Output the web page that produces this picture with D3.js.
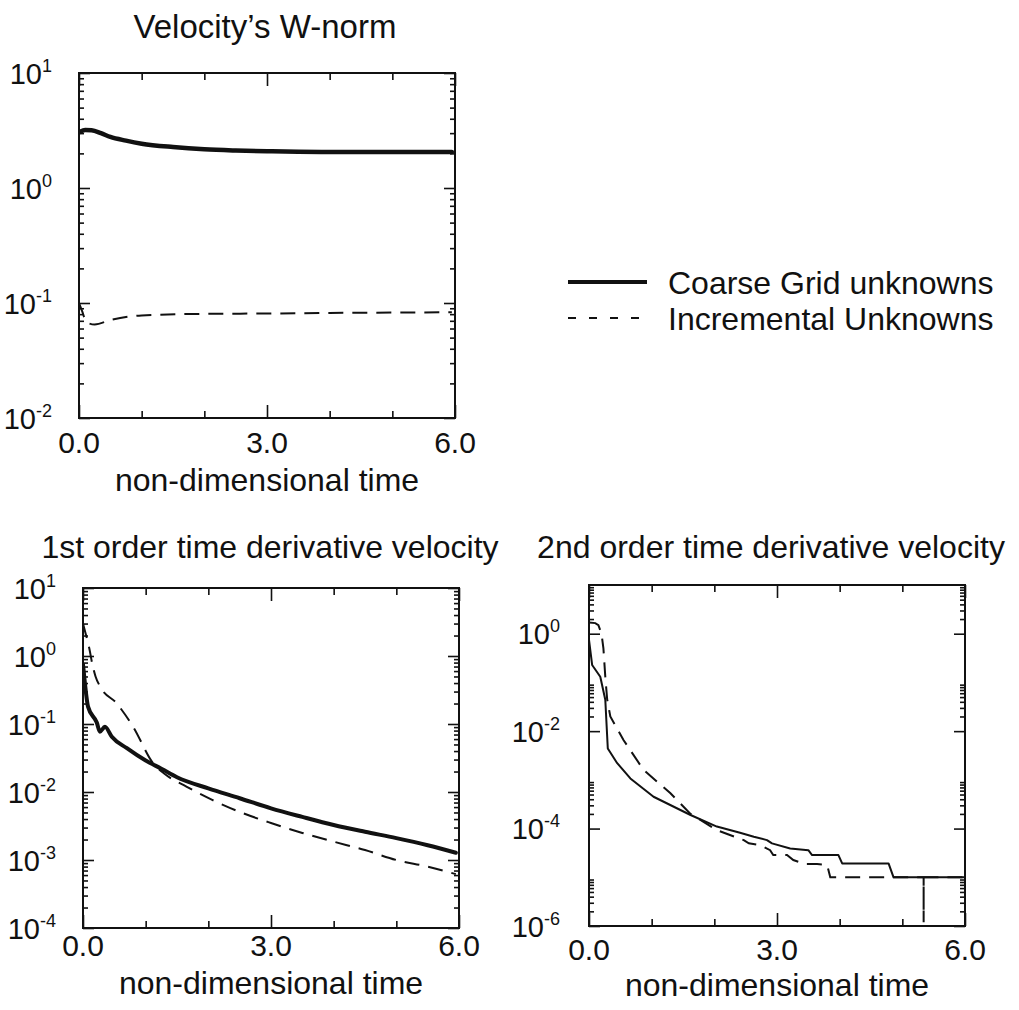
<!DOCTYPE html>
<html>
<head>
<meta charset="utf-8">
<script src="https://cdn.jsdelivr.net/npm/d3@7"></script>
<style>
  html, body { margin: 0; padding: 0; background: #fff; }
  svg { display: block; }
  text { font-family: "Liberation Sans", Arial, Helvetica, sans-serif; fill: #111; }
</style>
</head>
<body>
<svg id="chart" width="1019" height="1010"></svg>
<script>
// ---- data: [time, value] pairs ----
const xTickValues = [0, 1, 2, 3, 4, 5, 6];
const xTickLabels = ["0.0", "3.0", "6.0"];
const xLabelValues = [0, 3, 6];

// velocity W-norm
const wNormCoarse = [[0,3.05],[0.1,3.2],[0.2,3.18],[0.35,3.0],[0.5,2.78],[0.75,2.58],[1.0,2.43],[1.5,2.27],[2.0,2.17],[2.5,2.12],[3.0,2.09],[3.5,2.07],[4.0,2.06],[4.5,2.06],[5.0,2.06],[5.5,2.06],[5.95,2.06]];
const wNormIncr = [[0,0.1],[0.05,0.085],[0.12,0.068],[0.25,0.065],[0.5,0.071],[1.0,0.078],[2.0,0.0805],[3.0,0.081],[4.0,0.082],[5.0,0.0825],[5.95,0.083]];

// 1st order time derivative
const d1Coarse = [[0,0.75],[0.03,0.4],[0.08,0.18],[0.22,0.105],[0.27,0.077],[0.35,0.091],[0.46,0.065],[0.7,0.044],[1.0,0.029],[1.25,0.022],[1.5,0.0165],[2.0,0.0113],[2.5,0.0081],[3.0,0.00575],[3.5,0.0043],[4.0,0.00327],[4.5,0.0026],[5.0,0.0021],[5.5,0.00165],[5.95,0.00128]];
const d1Incr = [[0,3.0],[0.05,2.0],[0.1,1.3],[0.15,0.75],[0.2,0.5],[0.27,0.36],[0.54,0.2],[0.8,0.091],[1.12,0.0264],[1.3,0.0185],[1.65,0.012],[2.07,0.0076],[2.5,0.0051],[3.0,0.0035],[3.5,0.0025],[4.0,0.00186],[4.5,0.0014],[5.0,0.001],[5.5,0.0008],[5.95,0.00062]];

// 2nd order time derivative
const d2Coarse = [[0,0.75],[0.05,0.228],[0.18,0.131],[0.26,0.044],[0.3,0.0044],[0.45,0.0022],[0.66,0.00107],[1.03,0.00045],[1.62,0.00019],[2.04,0.00011],[2.41,8.2e-5],[2.63,6.8e-5],[2.84,5.8e-5],[2.92,4.97e-5],[3.21,3.9e-5],[3.5,3.6e-5],[3.56,2.86e-5],[3.98,2.86e-5],[4.04,1.93e-5],[4.78,1.93e-5],[4.86,1e-5],[6.0,1e-5]];
const d2Incr = [[0,1.7],[0.1,1.65],[0.15,1.5],[0.2,1.0],[0.23,0.5],[0.26,0.13],[0.29,0.045],[0.34,0.02],[0.55,0.0066],[0.87,0.0016],[1.3,0.00053],[1.62,0.0002],[2.04,9.3e-5],[2.47,5.8e-5],[2.55,4.97e-5],[2.73,4.6e-5],[2.89,3.6e-5],[2.94,2.86e-5],[3.16,2.86e-5],[3.26,2.26e-5],[3.45,1.87e-5],[3.64,1.87e-5],[3.8,1.8e-5],[3.85,1e-5],[5.34,1e-5],[5.34,1.2e-6],[5.34,1e-5],[6.0,1e-5]];

const seriesNames = ["Coarse Grid unknowns", "Incremental Unknowns"];
const panelTitles = ["Velocity\u2019s W-norm", "1st order time derivative velocity", "2nd order time derivative velocity"];
const xAxisTitle = "non-dimensional time";

// y tick exponents (labelled) and decades that get minor ticks
const wYExps = [1, 0, -1, -2];
const d1YExps = [1, 0, -1, -2, -3, -4];
const d2YExps = [0, -2, -4, -6];
const wMinorDecades = [-2, -1, 0];
const d1MinorDecades = [-4, -3, -2, -1, 0];
const d2MinorDecades = [-6, -4, -2, 0];

// ---- layout ----
const svg = d3.select("#chart");
const ink = "#111";

const panels = [
  { box: {l: 79, r: 455, t: 73, b: 418}, yDomain: [1e-2, 1e1], exps: wYExps, minor: wMinorDecades,
    coarse: wNormCoarse, incr: wNormIncr, title: panelTitles[0], titleX: 265, titleY: 38, titleSize: 33,
    labelEnd: 52, tickY: 453, axisTitleY: 491, coarseWidth: 4.5, smooth: true },
  { box: {l: 83, r: 459, t: 588, b: 928}, yDomain: [1e-4, 1e1], exps: d1YExps, minor: d1MinorDecades,
    coarse: d1Coarse, incr: d1Incr, title: panelTitles[1], titleX: 270, titleY: 558, titleSize: 32,
    labelEnd: 56, tickY: 956, axisTitleY: 994, coarseWidth: 4, smooth: true },
  { box: {l: 589, r: 965, t: 585, b: 926}, yDomain: [1e-6, 1e1], exps: d2YExps, minor: d2MinorDecades,
    coarse: d2Coarse, incr: d2Incr, title: panelTitles[2], titleX: 771, titleY: 558, titleSize: 32,
    labelEnd: 560, tickY: 960, axisTitleY: 996, coarseWidth: 2, smooth: false }
];

panels.forEach((p, i) => {
  const {l, r, t, b} = p.box;
  const x = d3.scaleLinear().domain([0, 6]).range([l, r]);
  const y = d3.scaleLog().domain(p.yDomain).range([b, t]);
  const g = svg.append("g");

  const clipId = "clip" + i;
  svg.append("clipPath").attr("id", clipId)
    .append("rect").attr("x", l).attr("y", t).attr("width", r - l).attr("height", b - t);

  const majors = p.exps.map(e => Math.pow(10, e));
  const minors = [];
  p.minor.forEach(e => { for (let k = 2; k <= 9; k++) minors.push(k * Math.pow(10, e)); });
  const xMajor = xTickValues.filter(v => v % 3 === 0);
  const xMinor = xTickValues.filter(v => v % 3 !== 0);

  const tickStyle = sel => {
    sel.select(".domain").remove();
    sel.selectAll("line").attr("stroke", ink).attr("stroke-width", 1.6);
  };

  // inward ticks on all four sides
  g.append("g").attr("transform", `translate(${l},0)`)
    .call(d3.axisLeft(y).tickValues(majors).tickSize(-11).tickFormat("")).call(tickStyle);
  g.append("g").attr("transform", `translate(${l},0)`)
    .call(d3.axisLeft(y).tickValues(minors).tickSize(-5).tickFormat("")).call(tickStyle);
  g.append("g").attr("transform", `translate(${r},0)`)
    .call(d3.axisRight(y).tickValues(majors).tickSize(-11).tickFormat("")).call(tickStyle);
  g.append("g").attr("transform", `translate(${r},0)`)
    .call(d3.axisRight(y).tickValues(minors).tickSize(-5).tickFormat("")).call(tickStyle);
  g.append("g").attr("transform", `translate(0,${b})`)
    .call(d3.axisBottom(x).tickValues(xMajor).tickSize(-13).tickFormat("")).call(tickStyle);
  g.append("g").attr("transform", `translate(0,${b})`)
    .call(d3.axisBottom(x).tickValues(xMinor).tickSize(-7).tickFormat("")).call(tickStyle);
  g.append("g").attr("transform", `translate(0,${t})`)
    .call(d3.axisTop(x).tickValues(xMajor).tickSize(-13).tickFormat("")).call(tickStyle);
  g.append("g").attr("transform", `translate(0,${t})`)
    .call(d3.axisTop(x).tickValues(xMinor).tickSize(-7).tickFormat("")).call(tickStyle);

  // frame
  g.append("rect").attr("x", l).attr("y", t).attr("width", r - l).attr("height", b - t)
    .attr("fill", "none").attr("stroke", ink).attr("stroke-width", 2);

  // y tick labels: 10 with superscript exponent
  p.exps.forEach(e => {
    const ty = y(Math.pow(10, e));
    const txt = g.append("text").attr("x", p.labelEnd).attr("y", ty + 10.5)
      .attr("text-anchor", "end").style("font-size", "29px");
    txt.append("tspan").text("10");
    txt.append("tspan").attr("dy", -12).style("font-size", "18px").text(e < 0 ? "-" + (-e) : String(e));
  });

  // x tick labels
  xLabelValues.forEach((v, k) => {
    g.append("text").attr("x", x(v)).attr("y", p.tickY).attr("text-anchor", "middle")
      .style("font-size", "30px").text(xTickLabels[k]);
  });

  // titles
  g.append("text").attr("x", (l + r) / 2).attr("y", p.axisTitleY).attr("text-anchor", "middle")
    .style("font-size", "32px").text(xAxisTitle);
  g.append("text").attr("x", p.titleX).attr("y", p.titleY).attr("text-anchor", "middle")
    .style("font-size", p.titleSize + "px").text(p.title);

  // curves
  const line = d3.line().x(d => x(d[0])).y(d => y(d[1]));
  if (p.smooth) line.curve(d3.curveMonotoneX);
  const lines = g.append("g").attr("clip-path", `url(#${clipId})`);
  lines.append("path").datum(p.incr).attr("d", line)
    .attr("fill", "none").attr("stroke", ink).attr("stroke-width", 2)
    .attr("stroke-dasharray", "15,9");
  lines.append("path").datum(p.coarse).attr("d", line)
    .attr("fill", "none").attr("stroke", ink).attr("stroke-width", p.coarseWidth)
    .attr("stroke-linejoin", "round").attr("stroke-linecap", "round");
});

// legend
const legend = svg.append("g");
const legendRows = [
  { y: 282, width: 4, dash: null },
  { y: 318, width: 2, dash: "8,13" }
];
legendRows.forEach((row, k) => {
  legend.append("line").attr("x1", 568).attr("x2", 647).attr("y1", row.y).attr("y2", row.y)
    .attr("stroke", ink).attr("stroke-width", row.width)
    .attr("stroke-dasharray", row.dash);
  legend.append("text").attr("x", 668).attr("y", row.y + 11.5)
    .style("font-size", "32px").text(seriesNames[k]);
});
</script>
</body>
</html>
